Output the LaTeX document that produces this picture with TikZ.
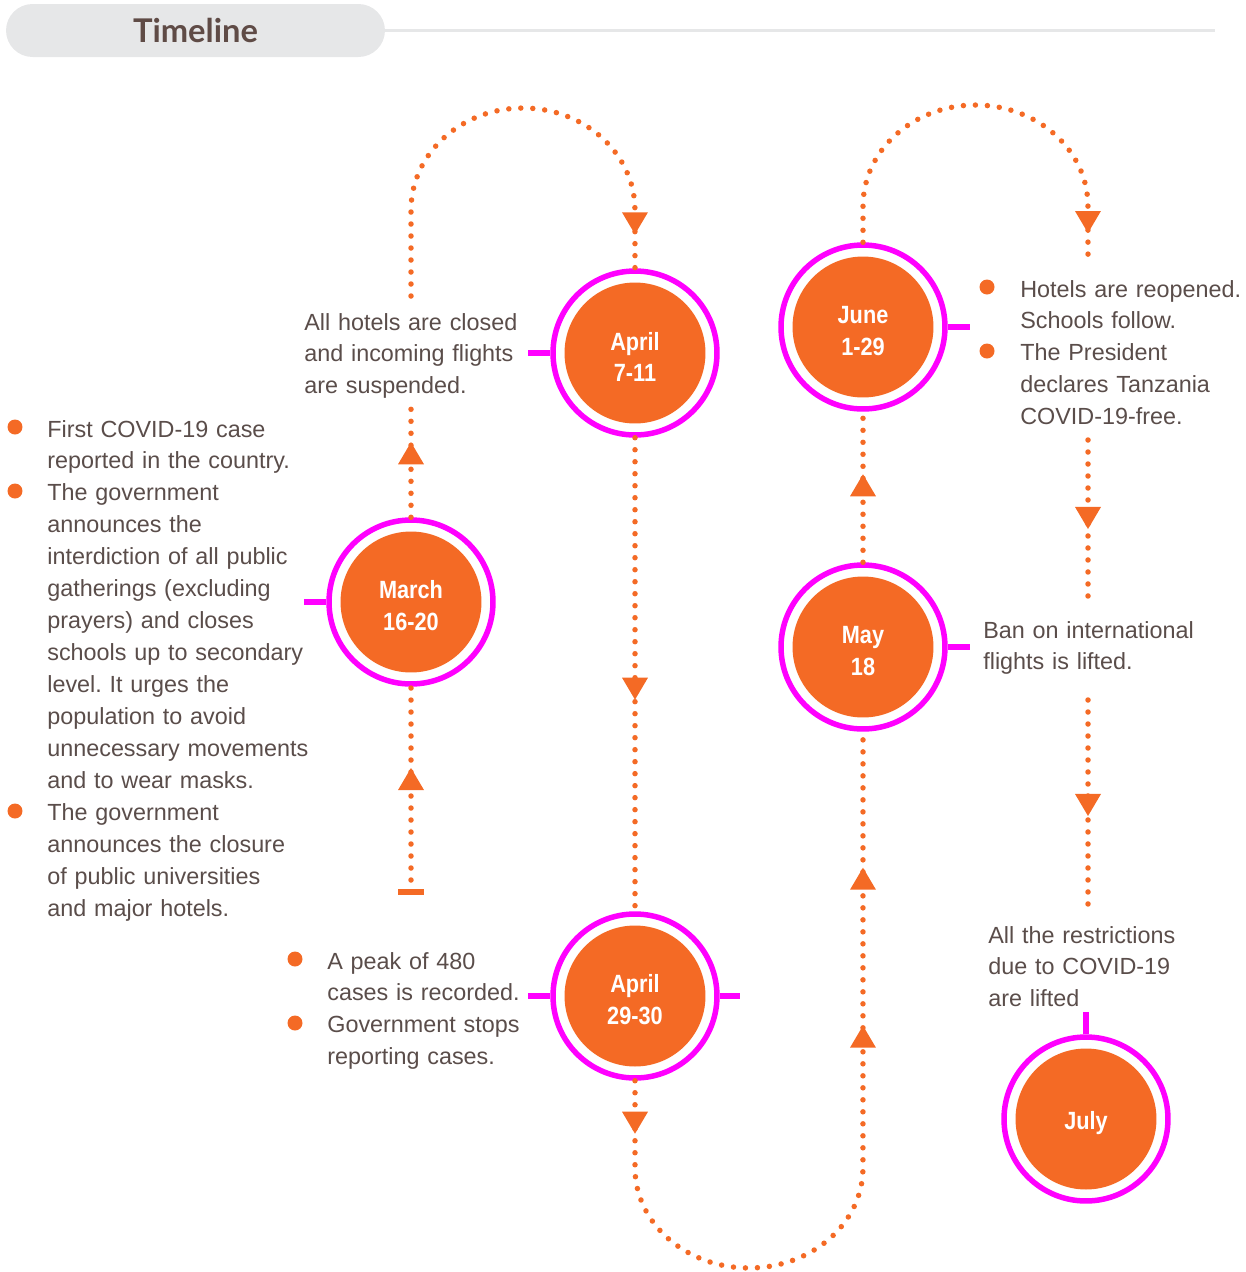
\documentclass[tikz,border=0pt]{standalone}
\usepackage{fontspec}
\setmainfont{Liberation Sans}
\newfontfamily\datefont[FakeStretch=0.87]{Liberation Sans}
\newfontfamily\titlefont{Lato}
\usepackage{tikz}
\usetikzlibrary{decorations.markings, positioning}
\definecolor{eventorange}{RGB}{244, 106, 37}
\definecolor{ringmagenta}{RGB}{255, 0, 255}
\definecolor{bodybrown}{RGB}{90, 77, 74}
\definecolor{headgray}{RGB}{230, 231, 232}
\definecolor{titlebrown}{RGB}{95, 75, 70}
\frenchspacing

\begin{document}
\begin{tikzpicture}[
  x=0.02cm, y=-0.02cm,
  headbox/.style={fill=headgray, rounded corners=0.53cm, minimum width=7.58cm, minimum height=1.06cm,
               inner sep=0pt, text=titlebrown, font=\titlefont\bfseries\fontsize{18.6}{20}\selectfont},
  event/.style={circle, draw=ringmagenta, line width=0.11cm, fill=white, inner sep=0pt,
               minimum size=3.28cm, align=center, text=white,
               font=\datefont\bfseries\fontsize{14.2}{18.2}\selectfont, text height=33pt,
               path picture={\fill[eventorange] (path picture bounding box.center) circle (1.41cm);}},
  note/.style={anchor=base west, inner sep=0pt, text width=6.5cm, align=left, text=bodybrown,
               font=\fontsize{13.3}{18.2}\selectfont},
  bullet/.style={circle, fill=eventorange, inner sep=0pt, minimum size=0.3cm},
  stub/.style={ringmagenta, line width=0.11cm},
  dotline/.style={eventorange, line width=0.11cm, line cap=round, dash pattern=on 0pt off 0.24cm},
  tipat/.style={postaction={decorate, decoration={markings, mark=at position #1 with
               {\fill[eventorange] (0,0) -- (-0.44cm,0.26cm) -- (-0.44cm,-0.26cm) -- cycle;}}}}
]
\useasboundingbox (0,0) rectangle (1245,1272);

\node[headbox] (head) at (195.5,30.5) {Timeline};
\draw[headgray, line width=0.05cm] (head.east) -- (1215,30.5);

\node[event] (march) at (411,602) {March\\16-20};
\node[event] (aprilA) at (635,353) {April\\7-11};
\node[event] (june) at (863,327) {June\\1-29};
\node[event] (may) at (863,647) {May\\18};
\node[event] (aprilB) at (635,996) {April\\29-30};
\node[event, text height=15pt] (july) at (1086,1119) {July};

\draw[stub] (march.west) -- ++(-22,0);
\draw[stub] (aprilA.west) -- ++(-22,0);
\draw[stub] (june.east) -- ++(22,0);
\draw[stub] (may.east) -- ++(22,0);
\draw[stub] (aprilB.west) -- ++(-22,0);
\draw[stub] (aprilB.east) -- ++(20,0);
\draw[stub] (july.north) -- ++(0,-22);

\node[note] (marchtxt) at (47,437) {First COVID-19 case\\reported in the country.\\The government\\announces the\\interdiction of all public\\gatherings (excluding\\prayers) and closes\\schools up to secondary\\level. It urges the\\population to avoid\\unnecessary movements\\and to wear masks.\\The government\\announces the closure\\of public universities\\and major hotels.};
\node[bullet] (mb1) at (15,427) {};
\node[bullet] (mb2) at (15,491) {};
\node[bullet] (mb3) at (15,811) {};

\node[note] (hotelstxt) at (304,330) {All hotels are closed\\and incoming flights\\are suspended.};

\node[note] (peaktxt) at (327,969) {A peak of 480\\cases is recorded.\\Government stops\\reporting cases.};
\node[bullet] (pb1) at (295,959) {};
\node[bullet] (pb2) at (295,1023) {};

\node[note] (reopentxt) at (1020,297) {Hotels are reopened.\\Schools follow.\\The President\\declares Tanzania\\COVID-19-free.};
\node[bullet] (rb1) at (987,287) {};
\node[bullet] (rb2) at (987,351) {};

\node[note] (bantxt) at (983,638) {Ban on international\\flights is lifted.};
\node[note] (lifttxt) at (988,943) {All the restrictions\\due to COVID-19\\are lifted};

\coordinate (start) at (411,892);
\coordinate (gapA) at (411,405);
\coordinate (gapB) at (411,296);
\coordinate (gapC) at (1088,262);
\coordinate (gapD) at (1088,440);
\coordinate (gapE) at (1088,605);
\coordinate (gapF) at (1088,700);
\coordinate (gapG) at (1088,906);

\draw[eventorange, line width=0.13cm] (398,892) -- (424,892);
\draw[dotline, tipat=2.48cm] (start) -- (march.south);
\draw[dotline, tipat=1.5cm] (march.north) -- (gapA);
\draw[dotline, tipat=-0.68cm] (gapB) -- (411,210)
  arc[start angle=180, end angle=0, x radius=2.24cm, y radius=2.04cm] -- (aprilA.north);
\draw[dotline, tipat=5.24cm] (aprilA.south) -- (aprilB.north);
\draw[dotline, tipat=1.06cm, tipat=-5.88cm, tipat=-2.72cm] (aprilB.south) -- (635,1168)
  arc[start angle=180, end angle=360, x radius=2.28cm, y radius=2cm] -- (may.south);
\draw[dotline, tipat=1.76cm] (may.north) -- (june.south);
\draw[dotline, tipat=-0.58cm] (june.north) -- (863,206)
  arc[start angle=180, end angle=0, x radius=2.25cm, y radius=2.02cm] -- (gapC);
\draw[dotline, tipat=1.78cm] (gapD) -- (gapE);
\draw[dotline, tipat=2.32cm] (gapF) -- (gapG);

\end{tikzpicture}
\end{document}
